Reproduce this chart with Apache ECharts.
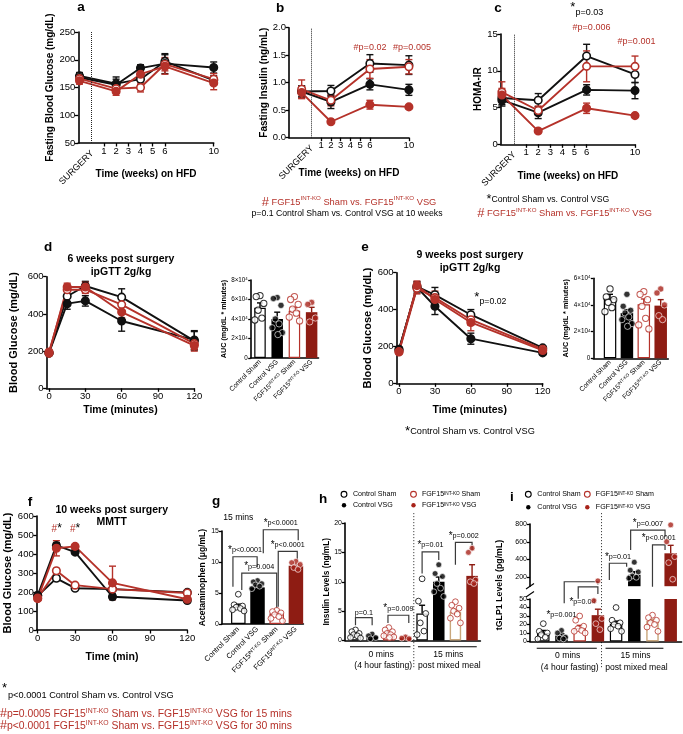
<!DOCTYPE html>
<html><head><meta charset="utf-8">
<script src="https://cdn.jsdelivr.net/npm/echarts@6/dist/echarts.min.js"></script>
<style>html,body{margin:0;padding:0;background:#fff}#c{width:683px;height:734px}</style>
</head><body><div id="c"></div>
<script>
// ================= DATA =================
// a: fasting blood glucose (mg/dL)
const weeksA = [-1, 2, 4, 6, 10];
const aCtrlSham = [171, 157, 165, 197, 163], aCtrlShamErr = [6, 8, 10, 12, 8];
const aCtrlVSG  = [168, 155, 185, 193, 186], aCtrlVSGErr  = [6, 14, 6, 18, 10];
const aFgfSham  = [166, 148, 150, 192, 165], aFgfShamErr  = [6, 7, 8, 12, 10];
const aFgfVSG   = [162, 143, 174, 188, 158], aFgfVSGErr   = [6, 7, 10, 14, 12];
// b: fasting insulin (ng/mL)
const weeksB = [-1, 2, 6, 10];
const bCtrlSham = [0.84, 0.85, 1.35, 1.32], bCtrlShamErr = [0.1, 0.1, 0.16, 0.17];
const bCtrlVSG  = [0.84, 0.65, 0.97, 0.87], bCtrlVSGErr  = [0.1, 0.12, 0.1, 0.1];
const bFgfSham  = [0.88, 0.68, 1.25, 1.29], bFgfShamErr  = [0.17, 0.1, 0.17, 0.13];
const bFgfVSG   = [0.82, 0.29, 0.60, 0.56], bFgfVSGErr   = [0.1, 0.02, 0.08, 0.03];
// c: HOMA-IR
const weeksC = [-1, 2, 6, 10];
const cCtrlSham = [6.3, 6.0, 12.0, 9.5], cCtrlShamErr = [0.9, 0.9, 1.6, 1.1];
const cCtrlVSG  = [6.0, 4.3, 7.4, 7.3],  cCtrlVSGErr  = [0.8, 0.8, 0.7, 1.1];
const cFgfSham  = [7.1, 4.6, 10.6, 10.6], cFgfShamErr = [1.4, 0.6, 2.1, 1.4];
const cFgfVSG   = [6.7, 1.8, 4.9, 3.9],  cFgfVSGErr   = [0.9, 0.2, 0.7, 0.2];
// d: ipGTT 6 weeks
const minutesGTT = [0, 15, 30, 60, 120];
const dCtrlSham = [190, 495, 550, 490, 255], dCtrlShamErr = [10, 30, 25, 45, 50];
const dCtrlVSG  = [190, 455, 470, 362, 260], dCtrlVSGErr  = [10, 30, 28, 55, 50];
const dFgfSham  = [195, 530, 530, 450, 240], dFgfShamErr  = [10, 25, 20, 30, 30];
const dFgfVSG   = [188, 545, 545, 410, 230], dFgfVSGErr   = [10, 20, 25, 30, 30];
const dAucMean = [51500, 40000, 48500, 47000], dAucErr = [5000, 7000, 3000, 5000];
const dAucCtrlSham = [64000, 63000, 56000, 49000, 41000, 39000];
const dAucCtrlVSG  = [62000, 61000, 54000, 40000, 35000, 31000, 26000, 24000];
const dAucFgfSham  = [63000, 60000, 55000, 50000, 46000, 42000, 38000];
const dAucFgfVSG   = [57000, 55000, 41000, 37000];
// e: ipGTT 9 weeks
const eCtrlSham = [180, 525, 480, 372, 192], eCtrlShamErr = [10, 25, 40, 28, 10];
const eCtrlVSG  = [185, 520, 418, 242, 165], eCtrlVSGErr  = [12, 30, 45, 30, 10];
const eFgfSham  = [170, 515, 465, 345, 185], eFgfShamErr  = [10, 30, 35, 30, 10];
const eFgfVSG   = [172, 530, 455, 330, 178], eFgfVSGErr   = [10, 25, 30, 45, 10];
const eAucMean = [45000, 34000, 40500, 39500], eAucErr = [3000, 2500, 4000, 4500];
const eAucCtrlSham = [52000, 46000, 44000, 42000, 38000, 35000];
const eAucCtrlVSG  = [48000, 39000, 36000, 34000, 31000, 29000, 26000, 24000];
const eAucFgfSham  = [50000, 48000, 44000, 39000, 30000, 25000, 22000];
const eAucFgfVSG   = [52000, 49000, 40000, 32000, 29000];
// f: MMTT 10 weeks
const minutesMMTT = [0, 15, 30, 60, 120];
const fCtrlSham = [180, 272, 220, 215, 198], fCtrlShamErr = [10, 12, 8, 10, 10];
const fCtrlVSG  = [182, 445, 410, 175, 155], fCtrlVSGErr  = [10, 15, 10, 15, 10];
const fFgfSham  = [168, 312, 236, 215, 195], fFgfShamErr  = [10, 12, 8, 10, 10];
const fFgfVSG   = [165, 430, 440, 248, 162], fFgfVSGErr   = [10, 40, 10, 88, 10];
// g: acetaminophen 15 mins
const gMean = [2.8, 5.9, 1.7, 9.4], gErr = [0.4, 0.3, 0.3, 0.3];
const gCtrlSham = [4.8, 3.1, 2.9, 2.7, 2.5, 2.3, 2.1];
const gCtrlVSG  = [7.0, 6.8, 6.5, 6.3, 6.1, 5.7];
const gFgfSham  = [2.2, 2.0, 1.8, 1.5, 1.2, 0.9, 0.5];
const gFgfVSG   = [10.1, 9.9, 9.6, 9.1, 8.8];
// h: insulin levels (0 min: CS, CV, FS, FV ; 15 min: CS, CV, FS, FV)
const hMean = [1.1, 0.7, 1.2, 0.5, 4.6, 10.0, 4.9, 11.0];
const hErr  = [0.2, 0.15, 0.2, 0.1, 1.4, 0.8, 0.4, 1.9];
const hCS0 = [1.8, 1.5, 1.2, 1.0, 0.8, 0.5, 0.4];
const hCV0 = [1.1, 0.8, 0.5, 0.3];
const hFS0 = [2.2, 1.8, 1.5, 1.2, 1.0, 0.8, 0.6, 0.5];
const hFV0 = [0.6, 0.4, 0.3];
const hCS15 = [10.5, 6.7, 4.6, 3.0, 1.6, 1.0];
const hCV15 = [12.9, 11.4, 10.9, 9.7, 8.9, 8.3, 7.5];
const hFS15 = [6.6, 6.0, 5.5, 5.0, 4.5, 3.8, 3.0];
const hFV15 = [15.7, 15.0, 10.3, 10.0, 9.7];
// i: tGLP1 levels (pg/mL)
const iMean = [10, 7, 16, 31, 21, 228, 24, 470];
const iErr  = [3, 2, 3, 7, 3, 35, 2, 90];
const iCS0 = [21, 12, 10, 8, 5, 3];
const iCV0 = [13, 10, 5, 4, 3];
const iFS0 = [30, 25, 18, 15, 13, 12, 10];
const iFV0 = [160, 48, 27, 21, 14];
const iCS15 = [40, 25, 22, 20, 18, 15, 12];
const iCV15 = [370, 280, 260, 215, 200, 190];
const iFS15 = [31, 28, 25, 22, 20, 17, 12];
const iFV15 = [790, 600, 432, 365, 178];
// tick labels
const weekTicks = [1, 2, 3, 4, 5, 6, 10];
const minuteTicks = [0, 30, 60, 90, 120];
const iTopTicks = [200, 400, 600, 800];
const groupLabels = ['Control Sham', 'Control VSG', '{m|FGF15}{s|INT-KO}{m| Sham}', '{m|FGF15}{s|INT-KO}{m| VSG}'];

// ================= STYLE =================
const FONT = '"Liberation Sans", Arial, Helvetica, sans-serif';
const BLK = '#111', RED = '#b5322a', DRED = '#8e1c13', TAN = '#c9a77c';
const STY = {
  cs: {line: BLK, fill: '#fff'}, cv: {line: BLK, fill: BLK},
  fs: {line: RED, fill: '#fff'}, fv: {line: RED, fill: RED}
};
const BAR = {
  cs: {color: '#fff', borderColor: '#000', borderWidth: 1.2},
  cv: {color: '#000'},
  fs: {color: '#fff', borderColor: RED, borderWidth: 1.2},
  ft: {color: '#fff', borderColor: TAN, borderWidth: 1.4},
  fv: {color: DRED}
};
const DOT = {
  cs: {color: '#fff', borderColor: '#000', borderWidth: 1},
  cv: {color: '#000', borderColor: '#fff', borderWidth: 0.8},
  fs: {color: '#fff', borderColor: RED, borderWidth: 1},
  fv: {color: '#a8231a', borderColor: '#fff', borderWidth: 0.8}
};
const JIT = [0, -0.22, 0.22, -0.11, 0.11, -0.3, 0.3, 0.04, -0.05];

function isObj(o) { return o && typeof o === 'object' && !Array.isArray(o); }
function merge(a, b) { for (const k in b) { if (isObj(b[k]) && isObj(a[k])) merge(a[k], b[k]); else a[k] = b[k]; } return a; }

const grids = [], xAxes = [], yAxes = [], series = [], GI = {};
function addGrid(key, r) { GI[key] = grids.length; grids.push({left: r[0], top: r[1], width: r[2], height: r[3]}); return GI[key]; }
function baseAxis(gi, lf) {
  return {
    gridIndex: gi, type: 'value',
    axisLine: {show: true, onZero: false, lineStyle: {color: '#000', width: 1.6}},
    axisTick: {show: true, length: 3.5, lineStyle: {color: '#000', width: 1.3}},
    axisLabel: {color: '#000', fontFamily: FONT, fontSize: lf || 9.5, margin: 3},
    splitLine: {show: false},
    nameLocation: 'middle',
    nameTextStyle: {color: '#000', fontFamily: FONT, fontWeight: 'bold', fontSize: 10}
  };
}
function errRender(colors, cap, upOnly) {
  return function (params, api) {
    const x = api.value(0), y = api.value(1), e = api.value(2);
    const color = Array.isArray(colors) ? colors[params.dataIndex] : colors;
    const pt = api.coord([x, y + e]), pm = api.coord([x, y]), pb = api.coord([x, y - e]);
    const st = {stroke: color, lineWidth: 1.4};
    const lo = upOnly ? pm : pb;
    const ch = [
      {type: 'line', shape: {x1: pt[0], y1: pt[1], x2: lo[0], y2: lo[1]}, style: st},
      {type: 'line', shape: {x1: pt[0] - cap, y1: pt[1], x2: pt[0] + cap, y2: pt[1]}, style: st}
    ];
    if (!upOnly) ch.push({type: 'line', shape: {x1: pb[0] - cap, y1: pb[1], x2: pb[0] + cap, y2: pb[1]}, style: st});
    return {type: 'group', children: ch};
  };
}

function linePanel(key, rect, xo, yo, xs, sets, surgery) {
  const gi = addGrid(key, rect);
  xAxes.push(merge(baseAxis(gi), {min: xo.min, max: xo.max, axisTick: {customValues: xo.ticks}, axisLabel: {customValues: xo.ticks},
    name: xo.name, nameGap: xo.gap, nameTextStyle: {fontSize: xo.fs || 10}}));
  yAxes.push(merge(baseAxis(gi), {min: yo.min, max: yo.max, interval: yo.interval, axisLabel: {formatter: yo.fmt || '{value}'},
    name: yo.name, nameGap: yo.gap, nameTextStyle: {fontSize: yo.fs || 10}}));
  sets.forEach(([vals, errs, st], k) => {
    series.push({type: 'custom', xAxisIndex: gi, yAxisIndex: gi, silent: true, z: 3,
      renderItem: errRender(st.line, 3.5, false), data: xs.map((x, i) => [x, vals[i], errs[i]])});
    const s = {type: 'line', xAxisIndex: gi, yAxisIndex: gi, silent: true, z: 4,
      data: xs.map((x, i) => [x, vals[i]]), symbol: 'circle', symbolSize: 7.5,
      lineStyle: {color: st.line, width: 1.9}, itemStyle: {color: st.fill, borderColor: st.line, borderWidth: 1.6}};
    if (k === 0 && surgery) s.markLine = {silent: true, symbol: ['none', 'none'], label: {show: false},
      lineStyle: {type: 'dotted', color: '#222', width: 1}, data: [{xAxis: 0}]};
    series.push(s);
  });
  return gi;
}

function barGroupPanel(gi, means, errs, barSty, errCols, dotGroups, dotSty, bw, ds, filt) {
  const keep = (v) => !filt || filt(v);
  series.push({type: 'bar', xAxisIndex: gi, yAxisIndex: gi, silent: true, z: 2, barWidth: bw,
    data: means.map((m, i) => ({value: [i, m], itemStyle: barSty[i]}))});
  const ed = [], ec = [];
  means.forEach((m, i) => { if (keep(m)) { ed.push([i, m, errs[i]]); ec.push(errCols[i]); } });
  series.push({type: 'custom', xAxisIndex: gi, yAxisIndex: gi, silent: true, z: 3, renderItem: errRender(ec, 3, true), data: ed});
  dotGroups.forEach((vals, k) => {
    const data = [];
    vals.forEach((v, j) => { if (keep(v)) data.push([k + JIT[j % JIT.length], v]); });
    series.push({type: 'scatter', xAxisIndex: gi, yAxisIndex: gi, silent: true, z: 5, symbol: 'circle', symbolSize: ds,
      data, itemStyle: dotSty[k]});
  });
}

const richCat = (fs) => ({m: {fontSize: fs, fontFamily: FONT, color: '#000'}, s: {fontSize: fs * 0.66, fontFamily: FONT, color: '#000', verticalAlign: 'top', padding: [0, 0, 0, 0]}});
const aucFmt = (v) => v === 0 ? '0' : (v / 10000) + '×10{p|4}';

// ---- a, b, c ----
const sets4 = (a, ae, b, be, c, ce, d, de) => [[a, ae, STY.cs], [b, be, STY.cv], [c, ce, STY.fs], [d, de, STY.fv]];
linePanel('a', [78.3, 32, 135.4, 111], {min: -1.1, max: 10, ticks: weekTicks, name: 'Time (weeks) on HFD', gap: 26},
  {min: 50, max: 250, interval: 50, name: 'Fasting Blood Glucose (mg/dL)', gap: 19}, weeksA,
  sets4(aCtrlSham, aCtrlShamErr, aCtrlVSG, aCtrlVSGErr, aFgfSham, aFgfShamErr, aFgfVSG, aFgfVSGErr), true);
linePanel('b', [289, 27.7, 119.9, 110], {min: -2.3, max: 10, ticks: weekTicks, name: 'Time (weeks) on HFD', gap: 30.5},
  {min: 0, max: 2, interval: 0.5, fmt: (v) => v.toFixed(1), name: 'Fasting Insulin (ng/mL)', gap: 18.5}, weeksB,
  sets4(bCtrlSham, bCtrlShamErr, bCtrlVSG, bCtrlVSGErr, bFgfSham, bFgfShamErr, bFgfVSG, bFgfVSGErr), true);
linePanel('c', [500.7, 34, 134.3, 110.3], {min: -1.1, max: 10, ticks: weekTicks, name: 'Time (weeks) on HFD', gap: 27},
  {min: 0, max: 15, interval: 5, name: 'HOMA-IR', gap: 15}, weeksC,
  sets4(cCtrlSham, cCtrlShamErr, cCtrlVSG, cCtrlVSGErr, cFgfSham, cFgfShamErr, cFgfVSG, cFgfVSGErr), true);
// ---- d, e, f ----
linePanel('d', [46.6, 276.7, 147.7, 111.6], {min: -2, max: 120, ticks: minuteTicks, name: 'Time (minutes)', gap: 16, fs: 10.5},
  {min: 0, max: 600, interval: 200, name: 'Blood Glucose (mg/dL)', gap: 27.5, fs: 11}, minutesGTT,
  sets4(dCtrlSham, dCtrlShamErr, dCtrlVSG, dCtrlVSGErr, dFgfSham, dFgfShamErr, dFgfVSG, dFgfVSGErr), false);
linePanel('e', [396.6, 272.7, 146.1, 110.6], {min: -2, max: 120, ticks: minuteTicks, name: 'Time (minutes)', gap: 21, fs: 10.5},
  {min: 0, max: 600, interval: 200, name: 'Blood Glucose (mg/dL)', gap: 22.5, fs: 11}, minutesGTT,
  sets4(eCtrlSham, eCtrlShamErr, eCtrlVSG, eCtrlVSGErr, eFgfSham, eFgfShamErr, eFgfVSG, eFgfVSGErr), false);
linePanel('f', [36.7, 516, 150.6, 114], {min: -0.8, max: 120, ticks: minuteTicks, name: 'Time (min)', gap: 21.5, fs: 10.5},
  {min: 0, max: 600, interval: 100, name: 'Blood Glucose (mg/dL)', gap: 23.5, fs: 11}, minutesMMTT,
  sets4(fCtrlSham, fCtrlShamErr, fCtrlVSG, fCtrlVSGErr, fFgfSham, fFgfShamErr, fFgfVSG, fFgfVSGErr), false);

// ---- AUC panels ----
function aucPanel(key, rect, xmin, xmax, ymax, gap, means, errs, dots, bw) {
  const gi = addGrid(key, rect);
  xAxes.push(merge(baseAxis(gi, 6.8), {min: xmin, max: xmax, axisTick: {show: false},
    axisLabel: {customValues: [0, 1, 2, 3], rotate: 45, margin: 3, formatter: (v) => groupLabels[Math.round(v)], rich: richCat(6.8)}}));
  yAxes.push(merge(baseAxis(gi, 6.3), {min: 0, max: ymax, interval: 20000, axisTick: {length: 2.5},
    axisLabel: {formatter: aucFmt, rich: {p: {fontSize: 4.3, fontFamily: FONT, color: '#000', verticalAlign: 'top'}}},
    name: 'AUC (mg/dL * minutes)', nameGap: gap, nameTextStyle: {fontSize: 7.2}}));
  barGroupPanel(gi, means, errs, [BAR.cs, BAR.cv, BAR.fs, BAR.fv], ['#000', '#000', RED, DRED], dots,
    [DOT.cs, DOT.cv, DOT.fs, DOT.fv], bw, 6.3);
}
aucPanel('dA', [250.7, 280, 67.8, 78], -0.54, 3.4, 80000, 17.7, dAucMean, dAucErr,
  [dAucCtrlSham, dAucCtrlVSG, dAucFgfSham, dAucFgfVSG], 11.5);
aucPanel('eA', [593.3, 278.3, 75, 80], -0.99, 3.45, 60000, 17.6, eAucMean, eAucErr,
  [eAucCtrlSham, eAucCtrlVSG, eAucFgfSham, eAucFgfVSG], 12.5);

// ---- g ----
(function () {
  const gi = addGrid('g', [222, 531, 81.4, 93]);
  xAxes.push(merge(baseAxis(gi, 7.5), {min: -0.85, max: 3.39, axisTick: {show: false},
    axisLabel: {customValues: [0, 1, 2, 3], rotate: 45, margin: 4, formatter: (v) => groupLabels[Math.round(v)], rich: richCat(7.5)}}));
  yAxes.push(merge(baseAxis(gi, 7), {min: 0, max: 15, interval: 5, axisTick: {length: 3},
    name: 'Acetaminophen (μg/mL)', nameGap: 12, nameTextStyle: {fontSize: 8.5}}));
  barGroupPanel(gi, gMean, gErr, [BAR.cs, BAR.cv, BAR.fs, BAR.fv], ['#000', '#000', RED, DRED],
    [gCtrlSham, gCtrlVSG, gFgfSham, gFgfVSG], [DOT.cs, DOT.cv, DOT.fs, DOT.fv], 14.5, 5.8);
})();
// ---- h ----
const bar8 = [BAR.cs, BAR.cv, BAR.fs, BAR.fv, BAR.cs, BAR.cv, BAR.ft, BAR.fv];
const err8 = ['#000', '#000', RED, DRED, '#000', '#000', TAN, DRED];
const dot8 = [DOT.cs, DOT.cv, DOT.fs, DOT.fv, DOT.cs, DOT.cv, DOT.fs, DOT.fv];
(function () {
  const gi = addGrid('h', [345, 523, 135.4, 117.5]);
  xAxes.push(merge(baseAxis(gi), {min: -0.63, max: 7.5, axisTick: {show: false}, axisLabel: {show: false}}));
  yAxes.push(merge(baseAxis(gi, 7), {min: 0, max: 20, interval: 5, axisTick: {length: 3},
    name: 'Insulin Levels (ng/mL)', nameGap: 14.5, nameTextStyle: {fontSize: 8.3}}));
  barGroupPanel(gi, hMean, hErr, bar8, err8, [hCS0, hCV0, hFS0, hFV0, hCS15, hCV15, hFS15, hFV15], dot8, 11.5, 5.8);
})();
// ---- i (broken axis) ----
(function () {
  const gt = addGrid('iTop', [530, 524, 151.6, 62.2]);
  xAxes.push(merge(baseAxis(gt), {min: -0.73, max: 7.6, axisLine: {show: false}, axisTick: {show: false}, axisLabel: {show: false}}));
  yAxes.push(merge(baseAxis(gt, 7), {min: 100, max: 800, axisTick: {length: 3, customValues: iTopTicks}, axisLabel: {customValues: iTopTicks}}));
  barGroupPanel(gt, iMean, iErr, bar8, err8, [iCS0, iCV0, iFS0, iFV0, iCS15, iCV15, iFS15, iFV15], dot8, 12.5, 5.8, (v) => v >= 100);
  const gb = addGrid('iBot', [530, 599, 151.6, 42.5]);
  xAxes.push(merge(baseAxis(gb), {min: -0.73, max: 7.6, axisTick: {show: false}, axisLabel: {show: false}}));
  yAxes.push(merge(baseAxis(gb, 7), {min: 0, max: 50, interval: 10, axisTick: {length: 3}}));
  barGroupPanel(gb, iMean, iErr, bar8, err8, [iCS0, iCV0, iFS0, iFV0, iCS15, iCV15, iFS15, iFV15], dot8, 12.5, 5.8, (v) => v <= 50);
})();

const chart = echarts.init(document.getElementById('c'), null, {renderer: 'canvas', width: 683, height: 734});
chart.setOption({animation: false, backgroundColor: '#fff', textStyle: {fontFamily: FONT},
  grid: grids, xAxis: xAxes, yAxis: yAxes, series: series});

// ================= ANNOTATIONS =================
function px(p, x, v) {
  if (p === 'i') {
    if (v >= 100) return chart.convertToPixel({gridIndex: GI.iTop}, [x, v]);
    if (v <= 50) return chart.convertToPixel({gridIndex: GI.iBot}, [x, v]);
    const a = chart.convertToPixel({gridIndex: GI.iBot}, [x, 50]), b = chart.convertToPixel({gridIndex: GI.iTop}, [x, 100]);
    const t = (v - 50) / 50; return [a[0], a[1] + (b[1] - a[1]) * t];
  }
  return chart.convertToPixel({gridIndex: GI[p]}, [x, v]);
}
const G = [];
function txt(x, y, text, st, rot) {
  G.push({type: 'text', x: x, y: y, rotation: rot || 0, silent: true,
    style: Object.assign({text: text, fill: '#000', fontFamily: FONT, fontSize: 10, align: 'left', verticalAlign: 'middle'}, st || {})});
}
function ln(x1, y1, x2, y2, st) {
  G.push({type: 'line', silent: true, shape: {x1, y1, x2, y2}, style: Object.assign({stroke: '#000', lineWidth: 1.2}, st || {})});
}
const fgfRich = (fs, col, hs) => ({
  h: {fontSize: hs || fs * 1.35, fontFamily: FONT, fill: col},
  m: {fontSize: fs, fontFamily: FONT, fill: col},
  s: {fontSize: fs * 0.66, fontFamily: FONT, fill: col, verticalAlign: 'top'},
  st: {fontSize: fs * 1.45, fontFamily: FONT, fill: col}
});

// panel letters
[['a', 81, 7], ['b', 280, 8], ['c', 498, 8], ['d', 48, 247], ['e', 365, 247], ['f', 30, 502], ['g', 216, 501], ['h', 323, 499], ['i', 512, 497]]
  .forEach(([l, x, y]) => txt(x, y, l, {fontSize: 13.5, fontWeight: 'bold', align: 'center'}));

// SURGERY labels under a, b, c
['a', 'b', 'c'].forEach((p) => {
  const g = grids[GI[p]]; const x0 = px(p, 0, p === 'a' ? 50 : 0)[0];
  txt(x0 + 0.5, g.top + g.height + 9, 'SURGERY', {fontSize: 9, align: 'right'}, Math.PI / 4);
});

// b, c significance
txt(370, 48, '#p=0.02', {fill: RED, fontSize: 9, align: 'center'});
txt(412, 48, '#p=0.005', {fill: RED, fontSize: 9, align: 'center'});
txt(572.7, 7, '*', {fontSize: 13, align: 'center'});
txt(575.5, 12.5, 'p=0.03', {fontSize: 9});
txt(591.5, 27.5, '#p=0.006', {fill: RED, fontSize: 9, align: 'center'});
txt(636.5, 42, '#p=0.001', {fill: RED, fontSize: 9, align: 'center'});
txt(349, 202, '{h|#}{m| FGF15}{s|INT-KO}{m| Sham vs. FGF15}{s|INT-KO}{m| VSG}', {align: 'center', rich: fgfRich(9.3, RED, 13)});
txt(347, 213.5, 'p=0.1 Control Sham vs. Control VSG at 10 weeks', {fontSize: 8.7, align: 'center'});
txt(486.5, 199.5, '{st|*}{m|Control Sham vs. Control VSG}', {rich: fgfRich(8.7, '#000')});
txt(477.3, 213.5, '{h|#}{m| FGF15}{s|INT-KO}{m| Sham vs. FGF15}{s|INT-KO}{m| VSG}', {rich: fgfRich(9.3, RED, 13)});

// d, e, f titles
txt(121, 259.5, '6 weeks post surgery', {fontSize: 10.5, fontWeight: 'bold', align: 'center'});
txt(121, 272, 'ipGTT 2g/kg', {fontSize: 10.5, fontWeight: 'bold', align: 'center'});
txt(470, 255.5, '9 weeks post surgery', {fontSize: 10.5, fontWeight: 'bold', align: 'center'});
txt(470, 268.5, 'ipGTT 2g/kg', {fontSize: 10.5, fontWeight: 'bold', align: 'center'});
txt(111.7, 510, '10 weeks post surgery', {fontSize: 10.5, fontWeight: 'bold', align: 'center'});
txt(111.7, 522, 'MMTT', {fontSize: 10.5, fontWeight: 'bold', align: 'center'});
// e annotation + footnote
txt(476.7, 297, '*', {fontSize: 13, align: 'center'});
txt(479.5, 301.5, 'p=0.02', {fontSize: 8.7});
txt(405, 431.5, '{st|*}{m|Control Sham vs. Control VSG}', {rich: fgfRich(9.2, '#000')});
// f annotations + footnotes
const fr = {r: {fontSize: 10, fontFamily: FONT, fill: RED}, k: {fontSize: 12, fontFamily: FONT, fill: '#000'}};
txt(56.7, 529, '{r|#}{k|*}', {align: 'center', rich: fr});
txt(75, 529, '{r|#}{k|*}', {align: 'center', rich: fr});
txt(2, 688, '*', {fontSize: 13});
txt(8, 695, 'p<0.0001 Control Sham vs. Control VSG', {fontSize: 9.2});
txt(0, 714, '{h|#}{m|p=0.0005 FGF15}{s|INT-KO}{m| Sham vs. FGF15}{s|INT-KO}{m| VSG for 15 mins}', {rich: fgfRich(10.4, RED, 12.5)});
txt(0, 726, '{h|#}{m|p<0.0001 FGF15}{s|INT-KO}{m| Sham vs. FGF15}{s|INT-KO}{m| VSG for 30 mins}', {rich: fgfRich(10.4, RED, 12.5)});
// g
txt(238.3, 517.7, '15 mins', {fontSize: 8.6, align: 'center'});

// legends h, i
function legend(x, y, dx, dy) {
  G.push({type: 'circle', silent: true, shape: {cx: x, cy: y, r: 2.9}, style: {fill: '#fff', stroke: '#000', lineWidth: 1.1}});
  G.push({type: 'circle', silent: true, shape: {cx: x, cy: y + dy, r: 2.2}, style: {fill: '#000'}});
  G.push({type: 'circle', silent: true, shape: {cx: x + dx, cy: y, r: 2.9}, style: {fill: '#fff', stroke: RED, lineWidth: 1.1}});
  G.push({type: 'circle', silent: true, shape: {cx: x + dx, cy: y + dy, r: 2.2}, style: {fill: '#a8231a'}});
  txt(x + 9, y, 'Control Sham', {fontSize: 7.1});
  txt(x + 9, y + dy, 'Control VSG', {fontSize: 7.1});
  txt(x + dx + 8.5, y, '{m|FGF15}{s|INT-KO}{m| Sham}', {rich: fgfRich(7.1, '#000')});
  txt(x + dx + 8.5, y + dy, '{m|FGF15}{s|INT-KO}{m| VSG}', {rich: fgfRich(7.1, '#000')});
}
legend(344, 494.3, 69.5, 11);
legend(528.3, 494.3, 59, 13);

// group labels & dotted separators for h and i
function groups(p, gx0, gx1, gx2, gx3, uy, dotX) {
  const a0 = px(p, gx0, 0)[0], a1 = px(p, gx1, 0)[0], b0 = px(p, gx2, 0)[0], b1 = px(p, gx3, 0)[0];
  ln(a0, uy, a1, uy, {lineWidth: 1.1}); ln(b0, uy, b1, uy, {lineWidth: 1.1});
  txt((a0 + a1) / 2 + 1, uy + 7.5, '0 mins', {fontSize: 8.6, align: 'center'});
  txt((a0 + a1) / 2 + 3, uy + 19, '(4 hour fasting)', {fontSize: 8.6, align: 'center'});
  txt((b0 + b1) / 2 + 1, uy + 7.5, '15 mins', {fontSize: 8.6, align: 'center'});
  txt((b0 + b1) / 2 + 2, uy + 19, 'post mixed meal', {fontSize: 8.6, align: 'center'});
  const dx = px(p, dotX, 0)[0];
  ln(dx, 513, dx, 669, {stroke: '#444', lineWidth: 1, lineDash: [1.2, 1.8]});
}
groups('h', -0.33, 3.3, 3.75, 7.28, 646.7, 3.5);
groups('i', -0.36, 2.94, 3.42, 6.6, 648.3, 3.2);

// i: axis break marks and y title
ln(526, 589, 534, 583.5, {lineWidth: 1.1});
ln(526, 597, 534, 591.5, {lineWidth: 1.1});
txt(500, 585, 'tGLP1 Levels (pg/mL)', {fontSize: 8.8, fontWeight: 'bold', align: 'center'}, Math.PI / 2);

// significance brackets: panel, x1, x2, y(bracket), leg1 end, leg2 end, label, star, [label x, label y]
const bracketSpecs = [
  ['g', -0.28, 0.98, 10.85, 6.0, 9.2, 'p<0.0001', true],
  ['g', 0.18, 2.0, 8.2, 5.5, 2.5, 'p=0.004', true],
  ['g', 1.3, 3.12, 15.2, 11.4, 13.5, 'p<0.0001', true],
  ['g', 2.08, 3.07, 11.7, 2.8, 10.3, 'p<0.0001', true],
  ['h', 0, 1, 3.9, 2.6, 2.6, 'p=0.1', false],
  ['h', 1.95, 3.2, 4.3, 3.0, 3.0, 'p=0.009', true],
  ['h', 4, 5, 15.1, 11.4, 13.7, 'p=0.01', true],
  ['h', 6, 7, 16.7, 12.9, 15.4, 'p=0.002', true],
  ['i', 1.15, 3.0, 150, 45, 120, 'p=0.001', true, [1.0, 31]],
  ['i', 1.92, 3.0, 97, 51, 70, 'p=0.04', true, [2.15, 46]],
  ['i', 3.63, 4.58, 358, 170, 320, 'p=0.01', true],
  ['i', 4.8, 6.69, 732, 507, 657, 'p=0.007', true],
  ['i', 6.0, 6.69, 564, 98, 507, 'p<0.0001', true]
];
const brRich = {s: {fontSize: 10, fontFamily: FONT, fill: '#000'}, t: {fontSize: 7.2, fontFamily: FONT, fill: '#000'}};
bracketSpecs.forEach(([p, x1, x2, y, l1, l2, lab, star, lp]) => {
  const a = px(p, x1, l1), b = px(p, x1, y), c = px(p, x2, y), d = px(p, x2, l2);
  G.push({type: 'polyline', silent: true, shape: {points: [a, b, c, d]}, style: {stroke: '#3a3a3a', lineWidth: 1.2, fill: null}});
  const t = (star ? '{s|*}' : '') + '{t|' + lab + '}';
  if (lp) { const q = px(p, lp[0], lp[1]); txt(q[0], q[1], t, {align: 'center', verticalAlign: 'middle', rich: brRich}); }
  else txt((b[0] + c[0]) / 2, b[1] - 1.5, t, {align: 'center', verticalAlign: 'bottom', rich: brRich});
});

chart.setOption({graphic: {elements: G}});
</script></body></html>
